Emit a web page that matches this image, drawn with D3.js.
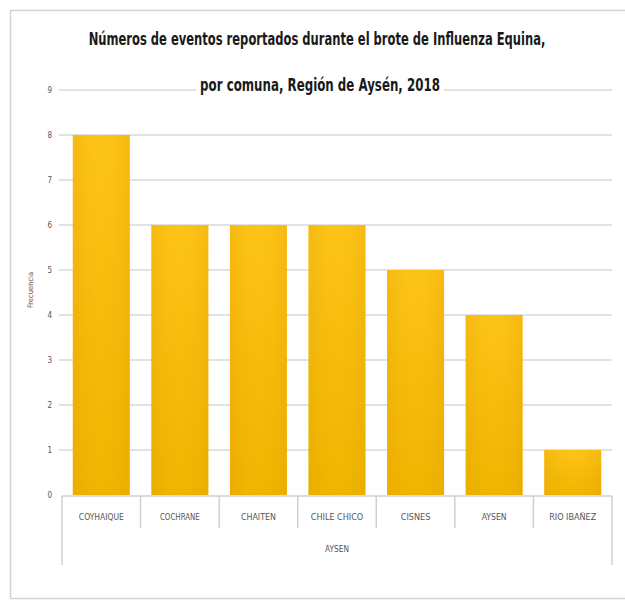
<!DOCTYPE html>
<html><head><meta charset="utf-8">
<script src="https://cdn.jsdelivr.net/npm/d3@7"></script>
<style>body{margin:0;background:#fff}svg{display:block}</style>
</head><body>
<script>
const categories = ["COYHAIQUE","COCHRANE","CHAITEN","CHILE CHICO","CISNES","AYSEN","RIO IBAÑEZ"];
const values = [8,6,6,6,5,4,1];
const yTicks = [0,1,2,3,4,5,6,7,8,9];
const groupLabel = "AYSEN";
const titleLines = ["Números de eventos reportados durante el brote de Influenza Equina,","por comuna, Región de Aysén, 2018"];
const yLabel = "Frecuencia";

(function(){
const W=625,H=602;
const svg=d3.select("body").append("svg").attr("width",W).attr("height",H);
const defs=svg.append("defs");
const g1=defs.append("linearGradient").attr("id","bg").attr("x1",0).attr("x2",0).attr("y1",0).attr("y2",1);
g1.append("stop").attr("offset","0%").attr("stop-color","#fdc21c");
g1.append("stop").attr("offset","100%").attr("stop-color","#ebb000");
const g2=defs.append("linearGradient").attr("id","hg").attr("x1",0).attr("x2",1).attr("y1",0).attr("y2",0);
g2.append("stop").attr("offset","0%").attr("stop-color","#e9a800").attr("stop-opacity",0.35);
g2.append("stop").attr("offset","50%").attr("stop-color","#ffd000").attr("stop-opacity",0.15);
g2.append("stop").attr("offset","100%").attr("stop-color","#e9a800").attr("stop-opacity",0.35);

svg.append("rect").attr("x",10.5).attr("y",10.5).attr("width",W).attr("height",588)
  .attr("fill","none").attr("stroke","#d4d4d4").attr("stroke-width",1.5);

const pl=62,pr=612,pt=90,pb=495;
const x=d3.scaleBand().domain(categories).range([pl,pr]).paddingInner(0.275).paddingOuter(0.1375);
const y=d3.scaleLinear().domain([0,9]).range([pb,pt]);

svg.append("g").selectAll("line").data(yTicks.filter(d=>d>0)).join("line")
  .attr("x1",pl-3).attr("x2",pr).attr("y1",d=>y(d)).attr("y2",d=>y(d))
  .attr("stroke","#d9d9d9").attr("stroke-width",1.5);

const lf="'Liberation Sans Narrow','DejaVu Sans Condensed',sans-serif";
const ya=d3.axisLeft(y).tickValues(yTicks).tickSize(0).tickPadding(10);
const yg=svg.append("g").attr("transform",`translate(${pl},0)`).call(ya);
yg.select(".domain").remove();
yg.selectAll("text").attr("font-family",lf).attr("font-size",8).attr("fill","#555");

svg.append("text").attr("transform",`translate(33,290) rotate(-90)`)
  .attr("text-anchor","middle").attr("font-family",lf).attr("font-size",7.5).attr("fill","#555").text(yLabel);

const bars=svg.append("g").selectAll("g").data(categories).join("g");
bars.append("rect").attr("x",d=>x(d)).attr("width",x.bandwidth())
  .attr("y",(d,i)=>y(values[i])).attr("height",(d,i)=>y(0)-y(values[i])).attr("fill","url(#bg)");
bars.append("rect").attr("x",d=>x(d)).attr("width",x.bandwidth())
  .attr("y",(d,i)=>y(values[i])).attr("height",(d,i)=>y(0)-y(values[i])).attr("fill","url(#hg)");

svg.append("line").attr("x1",pl).attr("x2",pr).attr("y1",pb+1).attr("y2",pb+1).attr("stroke","#d0d0d0").attr("stroke-width",1.5);
const bounds=d3.range(categories.length+1).map(i=>pl+i*(pr-pl)/categories.length);
svg.append("g").selectAll("line").data(bounds).join("line")
  .attr("x1",d=>d).attr("x2",d=>d).attr("y1",pb+1)
  .attr("y2",(d,i)=>(i===0||i===bounds.length-1)?565:528)
  .attr("stroke","#d0d0d0").attr("stroke-width",1.5);

function squeezed(parent, txt, cx, cy, size, bold, width, fill){
  const g=parent.append("g");
  const t=g.append("text").attr("x",0).attr("y",0).attr("text-anchor","middle")
    .attr("font-family",lf).attr("font-size",size).attr("fill",fill)
    .attr("font-weight",bold?"bold":"normal").text(txt);
  const w=t.node().getComputedTextLength();
  const s=Math.min(1,width/w);
  g.attr("transform",`translate(${cx},${cy}) scale(${s},1)`);
  return g;
}

const lab=svg.append("g");
categories.forEach(d=>squeezed(lab,d,x(d)+x.bandwidth()/2,520,9,false,d.length*5,"#555"));
squeezed(svg,groupLabel,(pl+pr)/2,552,9,false,24,"#555");

// title line 2 with white backing
svg.append("rect").attr("x",196).attr("y",75).attr("width",248).attr("height",22).attr("fill","#fff");
squeezed(svg,titleLines[1],320,91,17,true,240,"#1a1a1a");
squeezed(svg,titleLines[0],317,45,17,true,457,"#1a1a1a");
})();
</script>
</body></html>
